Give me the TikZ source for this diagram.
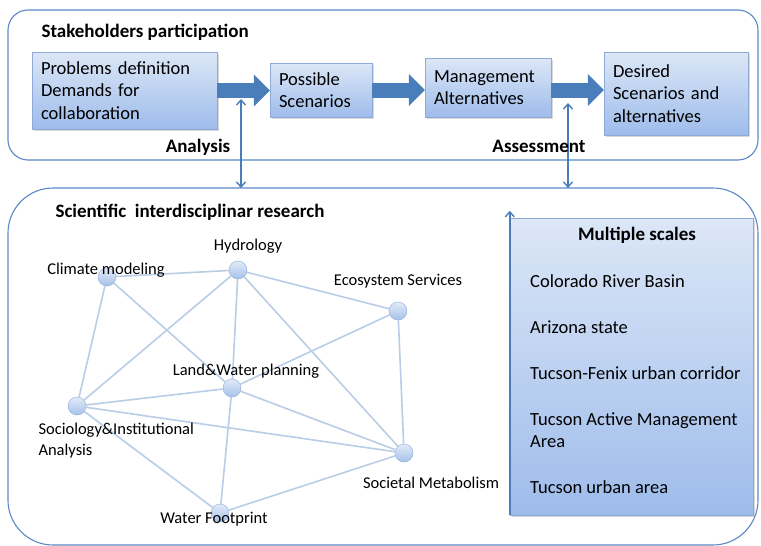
\documentclass[tikz,border=0pt]{standalone}
\usepackage{fontspec}
\setmainfont{Carlito}
\usepackage{tikz}
\usetikzlibrary{arrows.meta,shadows}

\definecolor{frameblue}{HTML}{5B87C5}
\definecolor{arrowblue}{HTML}{4A7EBB}
\definecolor{boxtop}{HTML}{DCE7F7}
\definecolor{boxbot}{HTML}{9EBCEB}
\definecolor{boxline}{HTML}{8FAAD6}
\definecolor{linkblue}{HTML}{B9CDE6}
\definecolor{sitetop}{HTML}{E2EBF8}
\definecolor{sitebot}{HTML}{A6C1EA}

\begin{document}
\begin{tikzpicture}[
        x=1pt, y=-1pt,
        frame/.style={draw=frameblue, line width=1.1pt, inner sep=0pt, outer sep=0pt},
        proc/.style={draw=boxline, top color=boxtop, bottom color=boxbot, align=left,
            inner xsep=9pt, inner ysep=0pt, font=\fontsize{18.5}{22.5}\selectfont,
            drop shadow={opacity=0.3, shadow xshift=1.5pt, shadow yshift=-1.5pt}},
        head/.style={font=\fontsize{19}{22}\selectfont\bfseries},
        flow/.style={draw=arrowblue, line width=15pt, -{Triangle[length=16pt, width=31pt]}},
        link/.style={draw=arrowblue, line width=1.4pt, >={Straight Barb[length=5pt, width=9pt]}},
        site/.style={circle, minimum size=18pt, inner sep=0pt, draw=boxline, top color=sitetop, bottom color=sitebot},
        wire/.style={draw=linkblue, line width=1.6pt},
        tag/.style={font=\fontsize{16.5}{21}\selectfont}
        ]
        \useasboundingbox (0,0) rectangle (761,546);

        % Stakeholders participation
        \node[frame, rounded corners=20pt, minimum width=750pt, minimum height=150pt] (stake) at (383,85) {};
        \node[head, anchor=west] (stitle) at (38,32) {Stakeholders participation};
        \node[proc, text width=167pt, minimum height=77pt] (prob) at (124.5,90.5) {Problems definition\\ Demands for\\ collaboration};
        \node[proc, text width=84pt, minimum height=54pt] (poss) at (321,90) {Possible\\ Scenarios};
        \node[proc, text width=108pt, minimum height=59pt] (manag) at (488,87.5) {Management\\ Alternatives};
        \node[proc, text width=126pt, minimum height=83pt] (desir) at (676,93.5) {Desired\\ Scenarios and\\ alternatives};
        \draw[flow] (prob.east) -- (prob.east -| poss.west);
        \draw[flow] (poss.east) -- (poss.east -| manag.west);
        \draw[flow] (manag.east |- poss.east) -- (poss.east -| desir.west);

        % Scientific research
        \node[frame, rounded corners=45pt, minimum width=750pt, minimum height=357pt] (sci) at (383,366.5) {};
        \node[head, anchor=west] (rtitle) at (52,212) {Scientific~ interdisciplinar research};

        \coordinate (ana) at (241,99);
        \coordinate (ass) at (568,103);
        \draw[link, <->] (ana) -- (ana |- sci.north);
        \draw[link, <->] (ass) -- (ass |- sci.north);
        \node[head] (anal) at (198,147) {Analysis};
        \node[head] (assl) at (539,146) {Assessment};

        % Multiple scales
        \node[proc, minimum width=243pt, minimum height=297pt, inner sep=0pt] (scales) at (631.5,366.5) {};
        \draw[link, ->] (scales.south west) -- ([yshift=7pt]scales.north west);
        \node[head] (mtitle) at (637,235) {Multiple scales};
        \node[font=\fontsize{18.5}{22.5}\selectfont, align=left, anchor=north west, inner sep=0pt] (mlist) at (530,274)
            {Colorado River Basin\\[23.5pt] Arizona state\\[23.5pt] Tucson-Fenix urban corridor\\[23.5pt]
             Tucson Active Management\\ Area\\[23.5pt] Tucson urban area};

        % Network
        \node[site] (clim) at (107,277) {};
        \node[site] (hydro) at (238,270) {};
        \node[site] (eco) at (398,311) {};
        \node[site] (land) at (232,388) {};
        \node[site] (socio) at (77,406) {};
        \node[site] (meta) at (404,453) {};
        \node[site] (foot) at (220,513) {};
        \draw[wire] (clim) -- (hydro) (clim) -- (socio) (clim) -- (land);
        \draw[wire] (hydro) -- (eco) (hydro) -- (socio) (hydro) -- (land) (hydro) -- (meta);
        \draw[wire] (eco) -- (land) (eco) -- (meta);
        \draw[wire] (land) -- (socio) (land) -- (meta) (land) -- (foot);
        \draw[wire] (socio) -- (meta) (socio) -- (foot) (foot) -- (meta);
        \node[tag] (climl) at (106,270) {Climate modeling};
        \node[tag] (hydrol) at (248,246) {Hydrology};
        \node[tag] (ecol) at (398,281) {Ecosystem Services};
        \node[tag] (landl) at (246,371) {Land\&Water planning};
        \node[tag, align=left, anchor=west] (sociol) at (35,440.5) {Sociology\&Institutional\\ Analysis};
        \node[tag] (metal) at (431,483) {Societal Metabolism};
        \node[tag] (footl) at (214,519) {Water Footprint};
    \end{tikzpicture}
\end{document}
